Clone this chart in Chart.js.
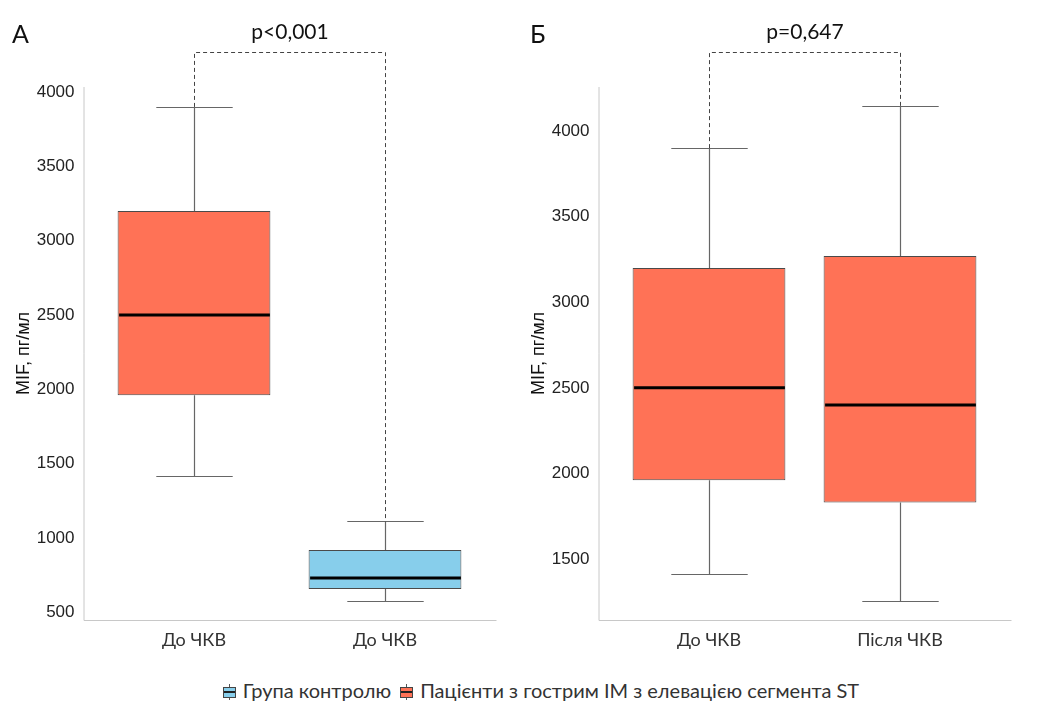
<!DOCTYPE html>
<html>
<head>
<meta charset="utf-8">
<script src="https://cdn.jsdelivr.net/npm/chart.js@4.4.1/dist/chart.umd.min.js"></script>
<style>
  body { margin: 0; background: #fff; width: 1038px; height: 704px; position: relative; overflow: hidden; font-family: Lato, sans-serif; }
  .panel { position: absolute; top: 0; width: 510px; height: 660px; }
  .tag { position: absolute; top: 21px; font-size: 25px; line-height: 1; color: #111; }
  #legend { position: absolute; left: 20px; width: 1038px; top: 678px; text-align: center; font-size: 20px; line-height: 24px; color: #333; white-space: nowrap; }
  .key { display: inline-block; position: relative; width: 12px; height: 16px; vertical-align: -2px; margin: 0 8px 0 4px; }
  .key i { position: absolute; left: 0; top: 3px; width: 11px; height: 9px; border: 1px solid #444; }
  .key i::after { content: ""; position: absolute; left: 0; right: 0; top: 3px; height: 2px; background: #222; }
  .key::before { content: ""; position: absolute; left: 6px; top: 0; width: 1px; height: 16px; background: #555; }
</style>
</head>
<body>
<div class="panel" style="left:0"><canvas id="chartA" width="510" height="660"></canvas></div>
<div class="panel" style="left:515px"><canvas id="chartB" width="510" height="660"></canvas></div>
<div class="tag" style="left:12px">А</div>
<div class="tag" style="left:530px">Б</div>
<div id="legend"><span class="key"><i style="background:#87CEEB"></i></span>Група контролю <span class="key"><i style="background:#FF7256"></i></span>Пацієнти з гострим ІМ з елевацією сегмента ST</div>
<script>
// Panel A: STEMI patients vs control group, both before PCI
const catsA = ["До ЧКВ", "До ЧКВ"];
const groupA = ["stemi", "control"];
const minA = [1415, 575];
const q1A = [1960, 656];
const medA = [2500, 730];
const q3A = [3200, 918];
const maxA = [3900, 1110];
const ticksA = [500, 1000, 1500, 2000, 2500, 3000, 3500, 4000];
const pA = "p<0,001";

// Panel B: STEMI patients before and after PCI
const catsB = ["До ЧКВ", "Після ЧКВ"];
const groupB = ["stemi", "stemi"];
const minB = [1415, 1255];
const q1B = [1960, 1830];
const medB = [2500, 2400];
const q3B = [3200, 3270];
const maxB = [3900, 4145];
const ticksB = [1500, 2000, 2500, 3000, 3500, 4000];
const pB = "p=0,647";

const COLORS = { stemi: "#FF7256", control: "#87CEEB" };
const TICK_FONT = { family: "'Liberation Sans', Arial, sans-serif", size: 17 };

// whiskers, medians, axis lines and the significance bracket, all placed via the chart scales
const boxPlot = {
  id: "boxPlot",
  beforeDatasetsDraw(chart) {
    const { ctx, chartArea: ca } = chart;
    ctx.save();
    ctx.strokeStyle = "#c8c8c8";
    ctx.lineWidth = 1;
    ctx.beginPath();
    ctx.moveTo(ca.left - 14.5, ca.top);
    ctx.lineTo(ca.left - 14.5, ca.bottom + 0.5);
    ctx.lineTo(ca.right + 16, ca.bottom + 0.5);
    ctx.stroke();
    ctx.restore();
  },
  afterDatasetsDraw(chart, args, opts) {
    const { ctx, chartArea: ca, scales: { x, y } } = chart;
    const s = opts.stats;
    const w = chart.getDatasetMeta(0).data.find((b) => b && b.width)?.width || 150;
    ctx.save();
    s.min.forEach((_, i) => {
      const cx = Math.round(x.getPixelForValue(i)) + 0.5;
      const yMin = Math.round(y.getPixelForValue(s.min[i])) + 0.5;
      const yQ1 = y.getPixelForValue(s.q1[i]);
      const yQ3 = y.getPixelForValue(s.q3[i]);
      const yMax = Math.round(y.getPixelForValue(s.max[i])) + 0.5;
      ctx.strokeStyle = "#666";
      ctx.lineWidth = 1.2;
      ctx.beginPath();
      ctx.moveTo(cx, yMax); ctx.lineTo(cx, yQ3);
      ctx.moveTo(cx, yQ1); ctx.lineTo(cx, yMin);
      ctx.moveTo(cx - w / 4, yMax); ctx.lineTo(cx + w / 4, yMax);
      ctx.moveTo(cx - w / 4, yMin); ctx.lineTo(cx + w / 4, yMin);
      ctx.stroke();
      ctx.strokeStyle = "#000";
      ctx.lineWidth = 3;
      const yMed = y.getPixelForValue(s.med[i]);
      ctx.beginPath();
      ctx.moveTo(cx - w / 2 + 1, yMed); ctx.lineTo(cx + w / 2 - 1, yMed);
      ctx.stroke();
    });
    // bracket between the two whisker tops
    const x0 = Math.round(x.getPixelForValue(0)) + 0.5;
    const x1 = Math.round(x.getPixelForValue(1)) + 0.5;
    const top = ca.top - 34.5;
    ctx.strokeStyle = "#444";
    ctx.lineWidth = 1;
    ctx.setLineDash([4, 3]);
    ctx.beginPath();
    ctx.moveTo(x0, y.getPixelForValue(s.max[0]));
    ctx.lineTo(x0, top);
    ctx.lineTo(x1, top);
    ctx.lineTo(x1, y.getPixelForValue(s.max[1]));
    ctx.stroke();
    ctx.setLineDash([]);
    ctx.fillStyle = "#111";
    ctx.font = "21px Lato, sans-serif";
    ctx.textAlign = "center";
    ctx.textBaseline = "middle";
    ctx.fillText(opts.label, (x0 + x1) / 2, ca.top - 55);
    ctx.restore();
  },
};

function makeBoxChart(canvas, cats, groups, stats, ticks, yMin, yMax, label) {
  const groupNames = [...new Set(groups)];
  const datasets = groupNames.map((g) => ({
    label: g,
    data: cats.map((_, i) => (groups[i] === g ? [stats.q1[i], stats.q3[i]] : null)),
    backgroundColor: COLORS[g],
    borderColor: "#4a4a4a",
    borderWidth: 1,
    borderSkipped: false,
    grouped: false,
    categoryPercentage: 1,
    barPercentage: 0.8,
  }));
  return new Chart(canvas, {
    type: "bar",
    data: { labels: cats, datasets },
    plugins: [boxPlot],
    options: {
      responsive: false,
      animation: false,
      layout: { padding: { left: 13, top: 87, right: 29.5, bottom: 0 } },
      plugins: {
        legend: { display: false },
        tooltip: { enabled: false },
        boxPlot: { stats, label },
      },
      scales: {
        x: {
          grid: { display: false, drawTicks: false },
          border: { display: false },
          ticks: { padding: 9, color: "#333", font: { family: "Lato, sans-serif", size: 18 } },
          afterFit: (s) => { s.height = 40; },
        },
        y: {
          min: yMin,
          max: yMax,
          grid: { display: false, drawTicks: false },
          border: { display: false },
          afterBuildTicks: (s) => { s.ticks = ticks.map((v) => ({ value: v })); },
          afterFit: (s) => { s.width = 85.5; },
          ticks: { padding: 24, color: "#222", font: TICK_FONT, callback: (v) => String(v) },
          title: {
            display: true,
            text: "MIF, пг/мл",
            color: "#111",
            padding: { top: 0, bottom: 0 },
            font: { family: "'Liberation Sans', Arial, sans-serif", size: 18 },
          },
        },
      },
    },
  });
}

makeBoxChart(document.getElementById("chartA"), catsA, groupA,
  { min: minA, q1: q1A, med: medA, q3: q3A, max: maxA }, ticksA, 447, 4034, pA);
makeBoxChart(document.getElementById("chartB"), catsB, groupB,
  { min: minB, q1: q1B, med: medB, q3: q3B, max: maxB }, ticksB, 1144, 4257, pB);
</script>
</body>
</html>
